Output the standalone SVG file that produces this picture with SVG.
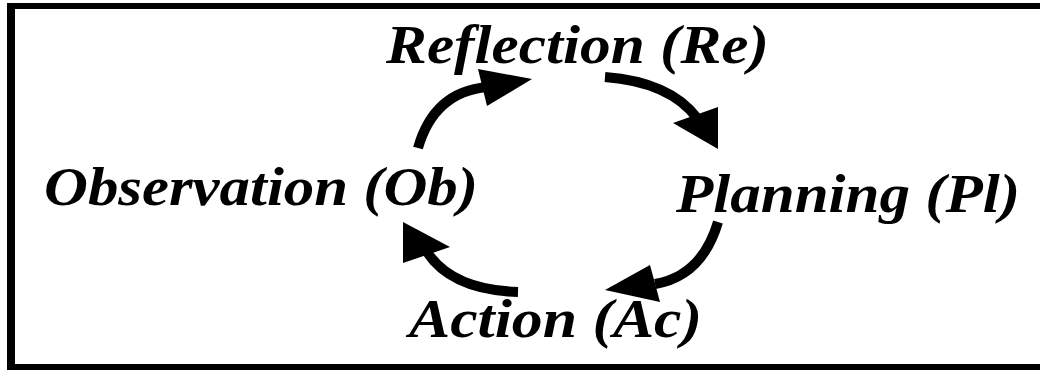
<svg xmlns="http://www.w3.org/2000/svg" width="1040" height="370" viewBox="0 0 1040 370">
<style>
.lbl{font-family:'Liberation Serif','Times New Roman',serif;font-weight:700;font-style:italic;font-size:55px;fill:#000}
.shaft{fill:none;stroke:#000;stroke-width:10}
.head{fill:#000}
</style>
<rect x="0" y="0" width="1040" height="370" fill="#fff"/>
<g id="frame" fill="#000">
<rect x="7" y="3" width="1033" height="6"/>
<rect x="7" y="3" width="8" height="367"/>
<rect x="7" y="364" width="1033" height="6"/>
</g>
<g id="connectors">
<path class="shaft" d="M418,148 Q434,92 487,87"/>
<polygon class="head" points="478,69 532,79 487,106"/>
<path class="shaft" d="M605,77 Q670,82 697,118"/>
<polygon class="head" points="673,123 718,107 718,149"/>
<path class="shaft" d="M718,222 Q702,276 655,284"/>
<polygon class="head" points="650,265 605,290 660,302"/>
<path class="shaft" d="M518,292 Q452,290 427,252"/>
<polygon class="head" points="403,222 450,247 403,263"/>
</g>
<g id="node-reflection"><text class="lbl" x="386" y="63" textLength="383" lengthAdjust="spacingAndGlyphs">Reflection (Re)</text></g>
<g id="node-planning"><text class="lbl" x="676" y="212" textLength="344" lengthAdjust="spacingAndGlyphs">Planning (Pl)</text></g>
<g id="node-action"><text class="lbl" x="409" y="337" textLength="293" lengthAdjust="spacingAndGlyphs">Action (Ac)</text></g>
<g id="node-observation"><text class="lbl" x="44" y="205" textLength="434" lengthAdjust="spacingAndGlyphs">Observation (Ob)</text></g>
</svg>
